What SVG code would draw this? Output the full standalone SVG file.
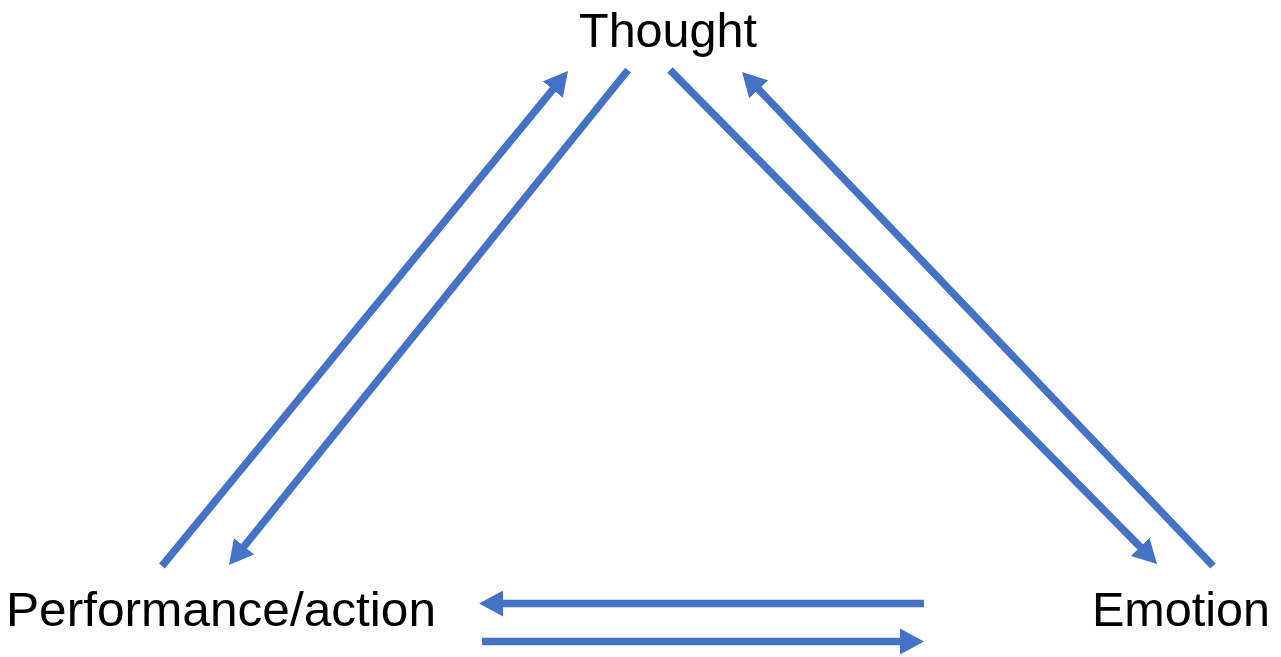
<svg xmlns="http://www.w3.org/2000/svg" width="1281" height="657" viewBox="0 0 1281 657">
<style>
.lbl{font-family:"Liberation Sans",Arial,sans-serif;font-size:48px;fill:#000}
.c{stroke:#4472C4;stroke-width:7.5;fill:none;marker-end:url(#ah)}
</style>
<defs>
<marker id="ah" viewBox="0 0 24 26" refX="10" refY="13" markerWidth="24" markerHeight="26" orient="auto" markerUnits="userSpaceOnUse">
<path d="M0,0 L24,13 L0,26 z" fill="#4472C4"/>
</marker>
</defs>
<rect width="1281" height="657" fill="#fff"/>
<g id="thought"><text class="lbl" x="579" y="47" textLength="178" lengthAdjust="spacingAndGlyphs">Thought</text></g>
<g id="performance"><text class="lbl" x="6" y="626" textLength="430" lengthAdjust="spacingAndGlyphs">Performance/action</text></g>
<g id="emotion"><text class="lbl" x="1092" y="626" textLength="178" lengthAdjust="spacingAndGlyphs">Emotion</text></g>
<g id="connectors">
<line class="c" x1="162" y1="566" x2="559.1" y2="81.8"/>
<line class="c" x1="628" y1="70" x2="237.8" y2="554.1"/>
<line class="c" x1="670" y1="70" x2="1147.2" y2="554.0"/>
<line class="c" x1="1213" y1="566" x2="751.7" y2="82.1"/>
<line class="c" x1="924" y1="603.5" x2="493" y2="603.5"/>
<line class="c" x1="482" y1="641.5" x2="910" y2="641.5"/>
</g>
</svg>
